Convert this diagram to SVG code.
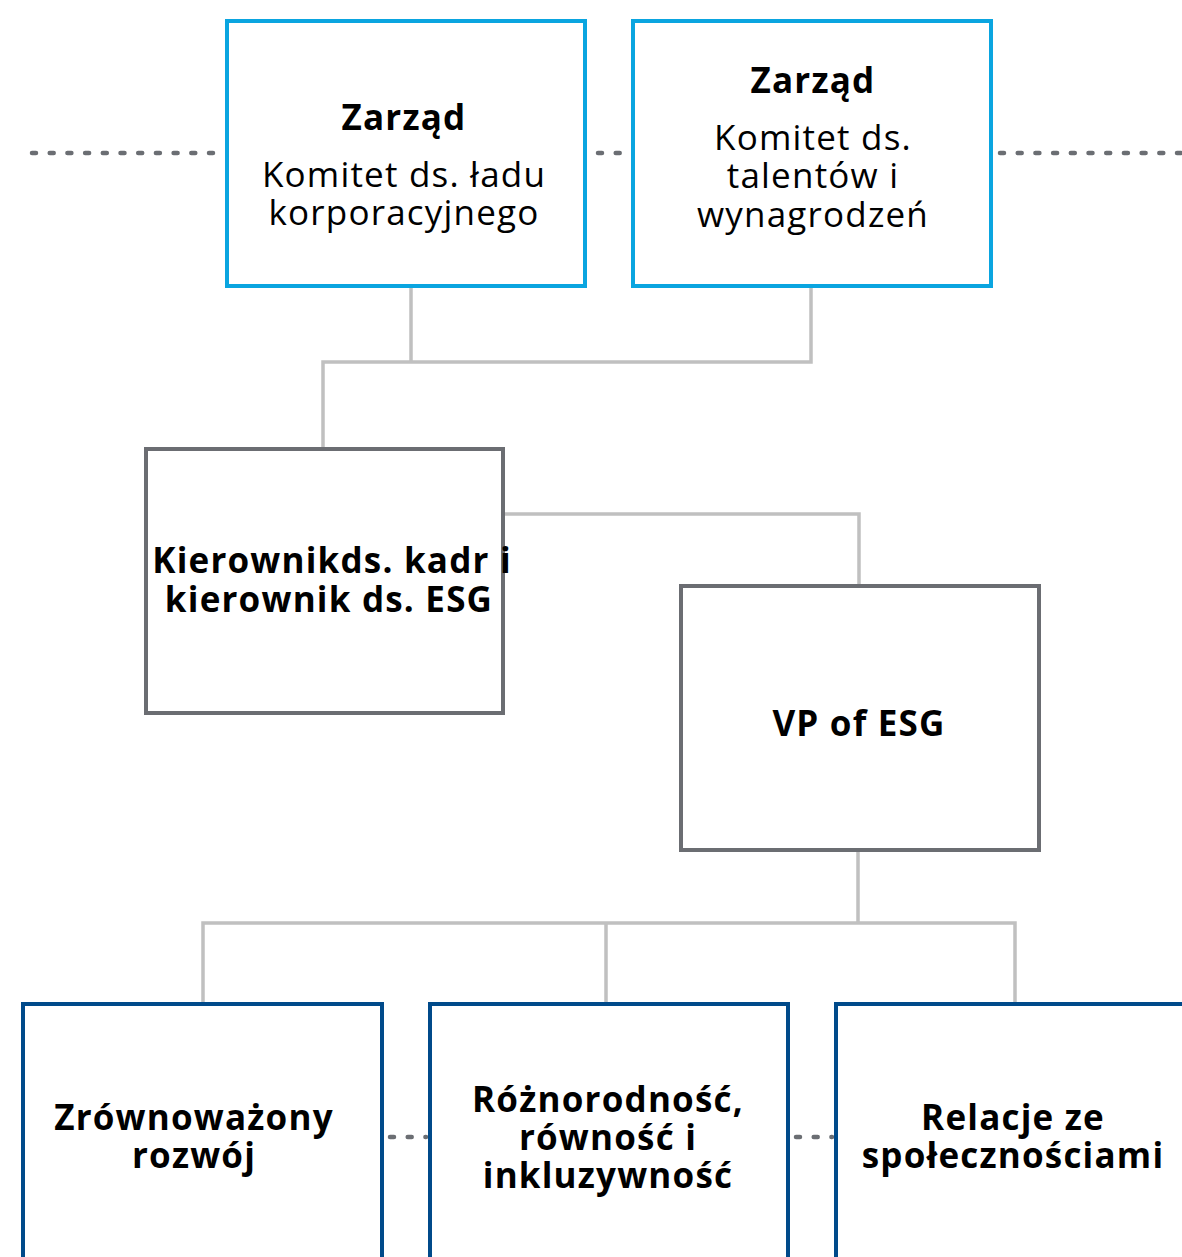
<svg xmlns="http://www.w3.org/2000/svg" width="1182" height="1257" viewBox="0 0 1182 1257">
<style>
.lt{fill:#fff;stroke:#0aa5e0;stroke-width:4}
.gr{fill:#fff;stroke:#6b6d72;stroke-width:4}
.dk{fill:#fff;stroke:#004a8a;stroke-width:4}
.ln{fill:none;stroke:#c0c0c0;stroke-width:3.5}
.dot{fill:none;stroke:#6b6e73;stroke-width:4.5;stroke-linecap:round;stroke-dasharray:4 13.7}
text{font-family:"Open Sans","Noto Sans",sans-serif;font-size:35px;letter-spacing:1.2px;fill:#000;text-anchor:middle}
.b{font-weight:bold}
</style>
<rect width="1182" height="1257" fill="#fff"/>
<g id="connectors">
<path class="dot" d="M32 153H222M598 153H628M1000 153H1182"/>
<path class="dot" d="M390 1137H426M796 1137H832"/>
<path class="ln" d="M411 287V362M811 287V362H323V448"/>
<path class="ln" d="M504 514H859V585"/>
<path class="ln" d="M858 851V923M203 1003V923H1015V1003M606 923V1003"/>
</g>
<g id="n1"><rect class="lt" x="227" y="21" width="358" height="265"/>
<text class="b" x="404" y="130">Zarząd</text>
<text x="404" y="187">Komitet ds. ładu</text>
<text x="404" y="225">korporacyjnego</text></g>
<g id="n2"><rect class="lt" x="633" y="21" width="358" height="265"/>
<text class="b" x="813" y="93">Zarząd</text>
<text x="813" y="150">Komitet ds.</text>
<text x="813" y="188">talentów i</text>
<text x="813" y="227">wynagrodzeń</text></g>
<g id="n3"><rect class="gr" x="146" y="449" width="357" height="264"/>
<text class="b" x="332" y="573">Kierownikds. kadr i</text>
<text class="b" x="329" y="612">kierownik ds. ESG</text></g>
<g id="n4"><rect class="gr" x="681" y="586" width="358" height="264"/>
<text class="b" x="859" y="736">VP of ESG</text></g>
<g id="n5"><rect class="dk" x="23" y="1004" width="359" height="270"/>
<text class="b" x="194" y="1130">Zrównoważony</text>
<text class="b" x="194" y="1168">rozwój</text></g>
<g id="n6"><rect class="dk" x="430" y="1004" width="358" height="270"/>
<text class="b" x="608" y="1112">Różnorodność,</text>
<text class="b" x="608" y="1150">równość i</text>
<text class="b" x="608" y="1188">inkluzywność</text></g>
<g id="n7"><rect class="dk" x="836" y="1004" width="360" height="270"/>
<text class="b" x="1013" y="1130">Relacje ze</text>
<text class="b" x="1013" y="1168">społecznościami</text></g>
</svg>
